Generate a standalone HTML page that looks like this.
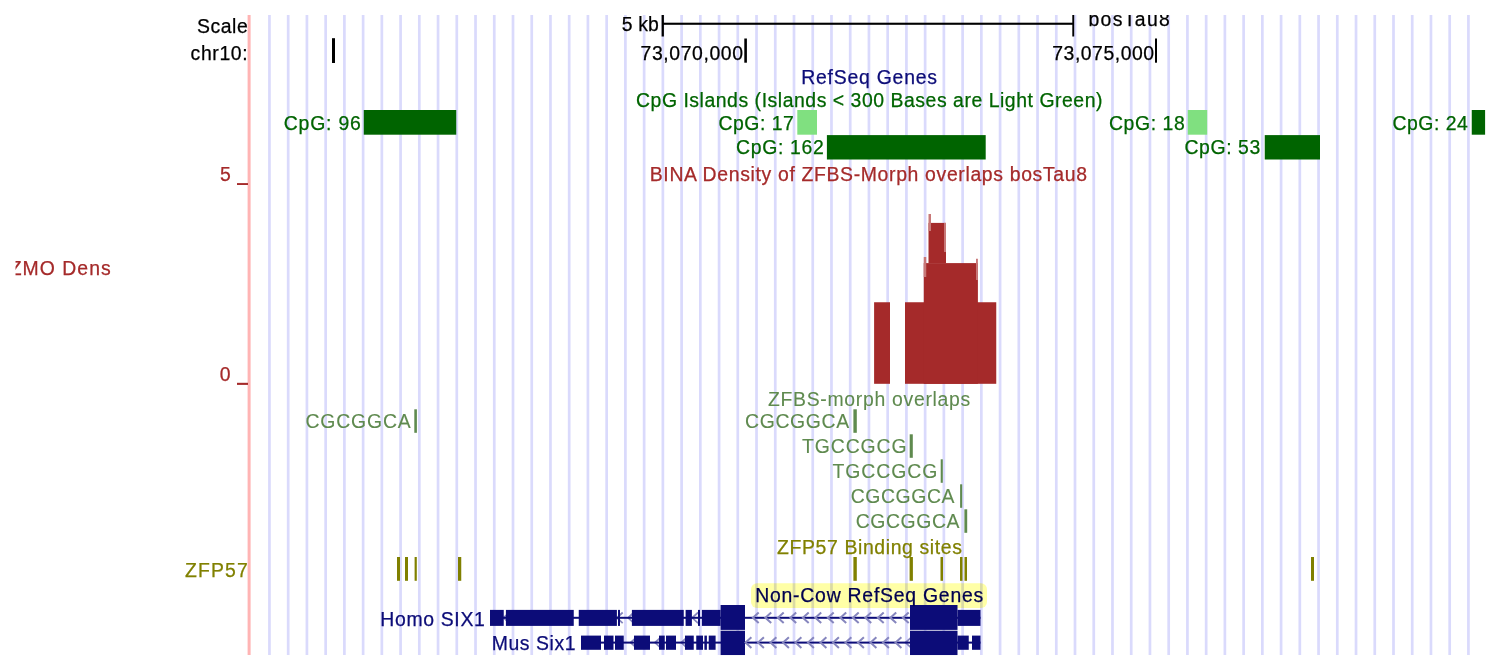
<!DOCTYPE html><html><head><meta charset="utf-8"><title>Genome Browser</title><style>html,body{margin:0;padding:0;background:#fff}svg{display:block}text{font-family:"Liberation Sans", sans-serif;font-size:19.4px;white-space:pre}</style></head><body>
<svg width="1504" height="672" viewBox="0 0 1504 672">
<rect width="1504" height="672" fill="#fff"/>
<g fill="#dadafc"><rect x="268.10" y="15" width="2.7" height="640"/><rect x="286.83" y="15" width="2.7" height="640"/><rect x="305.57" y="15" width="2.7" height="640"/><rect x="324.30" y="15" width="2.7" height="640"/><rect x="343.04" y="15" width="2.7" height="640"/><rect x="361.77" y="15" width="2.7" height="640"/><rect x="380.50" y="15" width="2.7" height="640"/><rect x="399.24" y="15" width="2.7" height="640"/><rect x="417.97" y="15" width="2.7" height="640"/><rect x="436.71" y="15" width="2.7" height="640"/><rect x="455.44" y="15" width="2.7" height="640"/><rect x="474.17" y="15" width="2.7" height="640"/><rect x="492.91" y="15" width="2.7" height="640"/><rect x="511.64" y="15" width="2.7" height="640"/><rect x="530.38" y="15" width="2.7" height="640"/><rect x="549.11" y="15" width="2.7" height="640"/><rect x="567.84" y="15" width="2.7" height="640"/><rect x="586.58" y="15" width="2.7" height="640"/><rect x="605.31" y="15" width="2.7" height="640"/><rect x="624.05" y="15" width="2.7" height="640"/><rect x="642.78" y="15" width="2.7" height="640"/><rect x="661.51" y="15" width="2.7" height="640"/><rect x="680.25" y="15" width="2.7" height="640"/><rect x="698.98" y="15" width="2.7" height="640"/><rect x="717.72" y="15" width="2.7" height="640"/><rect x="736.45" y="15" width="2.7" height="640"/><rect x="755.18" y="15" width="2.7" height="640"/><rect x="773.92" y="15" width="2.7" height="640"/><rect x="792.65" y="15" width="2.7" height="640"/><rect x="811.39" y="15" width="2.7" height="640"/><rect x="830.12" y="15" width="2.7" height="640"/><rect x="848.85" y="15" width="2.7" height="640"/><rect x="867.59" y="15" width="2.7" height="640"/><rect x="886.32" y="15" width="2.7" height="640"/><rect x="905.06" y="15" width="2.7" height="640"/><rect x="923.79" y="15" width="2.7" height="640"/><rect x="942.52" y="15" width="2.7" height="640"/><rect x="961.26" y="15" width="2.7" height="640"/><rect x="979.99" y="15" width="2.7" height="640"/><rect x="998.73" y="15" width="2.7" height="640"/><rect x="1017.46" y="15" width="2.7" height="640"/><rect x="1036.19" y="15" width="2.7" height="640"/><rect x="1054.93" y="15" width="2.7" height="640"/><rect x="1073.66" y="15" width="2.7" height="640"/><rect x="1092.40" y="15" width="2.7" height="640"/><rect x="1111.13" y="15" width="2.7" height="640"/><rect x="1129.86" y="15" width="2.7" height="640"/><rect x="1148.60" y="15" width="2.7" height="640"/><rect x="1167.33" y="15" width="2.7" height="640"/><rect x="1186.07" y="15" width="2.7" height="640"/><rect x="1204.80" y="15" width="2.7" height="640"/><rect x="1223.53" y="15" width="2.7" height="640"/><rect x="1242.27" y="15" width="2.7" height="640"/><rect x="1261.00" y="15" width="2.7" height="640"/><rect x="1279.74" y="15" width="2.7" height="640"/><rect x="1298.47" y="15" width="2.7" height="640"/><rect x="1317.20" y="15" width="2.7" height="640"/><rect x="1335.94" y="15" width="2.7" height="640"/><rect x="1354.67" y="15" width="2.7" height="640"/><rect x="1373.41" y="15" width="2.7" height="640"/><rect x="1392.14" y="15" width="2.7" height="640"/><rect x="1410.87" y="15" width="2.7" height="640"/><rect x="1429.61" y="15" width="2.7" height="640"/><rect x="1448.34" y="15" width="2.7" height="640"/><rect x="1467.08" y="15" width="2.7" height="640"/></g>
<rect x="247.6" y="15" width="3" height="640" fill="#ffb4b4"/>
<g fill="#000">
<rect x="662.20" y="22.70" width="411.30" height="2.10"/>
<rect x="661.60" y="15.00" width="2.30" height="21.50"/>
<rect x="1072.30" y="15.00" width="1.90" height="21.50"/>
<rect x="332.00" y="38.20" width="3.00" height="24.80"/>
<rect x="744.30" y="38.50" width="2.60" height="24.20"/>
<rect x="1155.00" y="38.50" width="2.00" height="24.20"/>
</g>
<g fill="#006400">
<rect x="363.75" y="110.00" width="92.50" height="24.70"/>
<rect x="826.90" y="135.10" width="158.80" height="24.40"/>
<rect x="1264.75" y="135.10" width="55.25" height="24.40"/>
<rect x="1471.75" y="110.00" width="18.25" height="24.70"/>
</g><g fill="#80e080">
<rect x="797.30" y="110.00" width="19.70" height="24.70"/>
<rect x="1187.75" y="110.00" width="19.45" height="24.70"/>
</g>
<g fill="#a52a2a">
<rect x="237.00" y="183.10" width="11.00" height="1.90"/>
<rect x="237.00" y="382.80" width="11.00" height="2.10"/>
<rect x="874.10" y="302.25" width="15.90" height="81.55"/>
<rect x="905.00" y="302.25" width="91.25" height="81.55"/>
<rect x="923.75" y="263.10" width="54.15" height="120.70"/>
<rect x="928.50" y="222.90" width="17.50" height="40.30"/>
</g><g fill="#c87878">
<rect x="923.75" y="257.00" width="2.50" height="20.00"/>
<rect x="976.00" y="258.75" width="1.90" height="21.25"/>
<rect x="928.50" y="214.00" width="2.50" height="17.00"/>
<rect x="944.00" y="222.90" width="2.00" height="29.10"/>
</g>
<g fill="#5f8a4f">
<rect x="414.30" y="409.30" width="2.60" height="23.50"/>
<rect x="853.40" y="409.30" width="3.40" height="23.50"/>
<rect x="909.70" y="434.30" width="3.10" height="23.50"/>
<rect x="940.70" y="459.30" width="2.10" height="23.50"/>
<rect x="960.10" y="484.30" width="2.10" height="23.50"/>
<rect x="964.40" y="509.30" width="2.80" height="23.50"/>
</g>
<g fill="#808000">
<rect x="397.00" y="557.00" width="3.00" height="23.80"/>
<rect x="405.00" y="557.00" width="3.00" height="23.80"/>
<rect x="414.60" y="557.00" width="2.20" height="23.80"/>
<rect x="458.00" y="557.00" width="3.25" height="23.80"/>
<rect x="853.40" y="557.00" width="3.40" height="23.80"/>
<rect x="909.60" y="557.00" width="3.30" height="23.80"/>
<rect x="940.50" y="557.00" width="2.50" height="23.80"/>
<rect x="960.00" y="557.00" width="2.50" height="23.80"/>
<rect x="964.50" y="557.00" width="2.50" height="23.80"/>
<rect x="1311.00" y="557.00" width="3.00" height="23.80"/>
</g>
<rect x="751" y="583.3" width="236" height="24.6" rx="6" ry="6" fill="#ffffa6" style="mix-blend-mode:multiply"/>
<path d="M509.40 612.50L503.60 617.80L509.40 623.10M622.70 612.50L616.90 617.80L622.70 623.10M633.90 612.50L628.10 617.80L633.90 623.10M698.05 612.50L692.25 617.80L698.05 623.10" fill="none" stroke="#8686be" stroke-width="1.8"/>
<g fill="#0c0c78">
<rect x="490.00" y="616.80" width="490.50" height="2.00"/>
<rect x="490.00" y="609.90" width="13.75" height="16.00"/>
<rect x="505.90" y="609.90" width="67.85" height="16.00"/>
<rect x="578.75" y="609.90" width="38.15" height="16.00"/>
<rect x="618.00" y="609.90" width="2.00" height="16.00"/>
<rect x="631.90" y="609.90" width="51.85" height="16.00"/>
<rect x="685.60" y="609.90" width="6.30" height="16.00"/>
<rect x="698.00" y="609.90" width="2.00" height="16.00"/>
<rect x="701.90" y="609.90" width="18.70" height="16.00"/>
<rect x="957.50" y="609.90" width="23.00" height="16.00"/>
<rect x="720.60" y="605.00" width="24.40" height="24.90"/>
<rect x="910.00" y="605.00" width="47.50" height="24.90"/>
</g>
<path d="M758.70 612.50L752.90 617.80L758.70 623.10M771.20 612.50L765.40 617.80L771.20 623.10M783.70 612.50L777.90 617.80L783.70 623.10M796.20 612.50L790.40 617.80L796.20 623.10M808.70 612.50L802.90 617.80L808.70 623.10M821.20 612.50L815.40 617.80L821.20 623.10M833.70 612.50L827.90 617.80L833.70 623.10M846.20 612.50L840.40 617.80L846.20 623.10M858.70 612.50L852.90 617.80L858.70 623.10M871.20 612.50L865.40 617.80L871.20 623.10M883.70 612.50L877.90 617.80L883.70 623.10M896.20 612.50L890.40 617.80L896.20 623.10M908.70 612.50L902.90 617.80L908.70 623.10" fill="none" stroke="#8686be" stroke-width="2.0"/>
<path d="M636.40 637.30L630.60 642.60L636.40 647.90M660.80 637.30L655.00 642.60L660.80 647.90M687.05 637.30L681.25 642.60L687.05 647.90M911.30 637.30L905.50 642.60L911.30 647.90" fill="none" stroke="#8686be" stroke-width="1.8"/>
<g fill="#0c0c78">
<rect x="581.00" y="641.60" width="399.50" height="2.00"/>
<rect x="581.00" y="635.60" width="20.00" height="14.20"/>
<rect x="604.00" y="635.60" width="9.50" height="14.20"/>
<rect x="615.00" y="635.60" width="8.75" height="14.20"/>
<rect x="634.00" y="635.60" width="16.00" height="14.20"/>
<rect x="659.00" y="635.60" width="5.75" height="14.20"/>
<rect x="666.00" y="635.60" width="10.00" height="14.20"/>
<rect x="685.00" y="635.60" width="8.75" height="14.20"/>
<rect x="696.25" y="635.60" width="6.75" height="14.20"/>
<rect x="704.40" y="635.60" width="2.50" height="14.20"/>
<rect x="708.75" y="635.60" width="6.85" height="14.20"/>
<rect x="957.50" y="635.60" width="11.25" height="14.20"/>
<rect x="972.00" y="635.60" width="8.50" height="14.20"/>
<rect x="720.60" y="630.70" width="24.40" height="24.50"/>
<rect x="910.00" y="630.70" width="47.50" height="24.50"/>
</g>
<path d="M751.40 637.30L745.60 642.60L751.40 647.90M763.90 637.30L758.10 642.60L763.90 647.90M776.40 637.30L770.60 642.60L776.40 647.90M788.90 637.30L783.10 642.60L788.90 647.90M801.40 637.30L795.60 642.60L801.40 647.90M813.90 637.30L808.10 642.60L813.90 647.90M826.40 637.30L820.60 642.60L826.40 647.90M838.90 637.30L833.10 642.60L838.90 647.90M851.40 637.30L845.60 642.60L851.40 647.90M863.90 637.30L858.10 642.60L863.90 647.90M876.40 637.30L870.60 642.60L876.40 647.90M888.90 637.30L883.10 642.60L888.90 647.90M901.40 637.30L895.60 642.60L901.40 647.90" fill="none" stroke="#8686be" stroke-width="2.0"/>
<text transform="translate(196.90 33.10) scale(1.0000 1)" fill="#000000" stroke="#000000" stroke-width="0.25" style="letter-spacing:0.595px">Scale</text>
<text transform="translate(190.60 59.85) scale(1.0000 1)" fill="#000000" stroke="#000000" stroke-width="0.25" style="letter-spacing:0.629px">chr10:</text>
<text transform="translate(621.75 31.35) scale(1.0000 1)" fill="#000000" stroke="#000000" stroke-width="0.25" style="letter-spacing:0.128px">5 kb</text>
<text transform="translate(640.50 60.10) scale(1.0000 1)" fill="#000000" stroke="#000000" stroke-width="0.25" style="letter-spacing:0.604px">73,070,000</text>
<text transform="translate(1052.25 60.10) scale(1.0000 1)" fill="#000000" stroke="#000000" stroke-width="0.25" style="letter-spacing:0.532px">73,075,000</text>
<text transform="translate(1088.50 26.10) scale(1.0000 1)" fill="#000000" stroke="#000000" stroke-width="0.25" style="letter-spacing:1.329px">bosTau8</text>
<text transform="translate(801.25 84.00) scale(1.0000 1)" fill="#0c0c78" stroke="#0c0c78" stroke-width="0.25" style="letter-spacing:0.773px">RefSeq Genes</text>
<text transform="translate(636.00 107.20) scale(1.0000 1)" fill="#006400" stroke="#006400" stroke-width="0.25" style="letter-spacing:0.545px">CpG Islands (Islands &lt; 300 Bases are Light Green)</text>
<text transform="translate(283.75 129.50) scale(1.0000 1)" fill="#006400" stroke="#006400" stroke-width="0.25" style="letter-spacing:0.804px">CpG: 96</text>
<text transform="translate(718.50 129.50) scale(1.0000 1)" fill="#006400" stroke="#006400" stroke-width="0.25" style="letter-spacing:0.512px">CpG: 17</text>
<text transform="translate(736.00 154.20) scale(1.0000 1)" fill="#006400" stroke="#006400" stroke-width="0.25" style="letter-spacing:0.684px">CpG: 162</text>
<text transform="translate(1109.00 129.50) scale(1.0000 1)" fill="#006400" stroke="#006400" stroke-width="0.25" style="letter-spacing:0.595px">CpG: 18</text>
<text transform="translate(1184.50 154.20) scale(1.0000 1)" fill="#006400" stroke="#006400" stroke-width="0.25" style="letter-spacing:0.595px">CpG: 53</text>
<text transform="translate(1392.50 129.50) scale(1.0000 1)" fill="#006400" stroke="#006400" stroke-width="0.25" style="letter-spacing:0.512px">CpG: 24</text>
<text transform="translate(649.75 180.60) scale(1.0000 1)" fill="#a52a2a" stroke="#a52a2a" stroke-width="0.25" style="letter-spacing:0.659px">BINA Density of ZFBS-Morph overlaps bosTau8</text>
<text transform="translate(220.00 180.85) scale(1.0000 1)" fill="#a52a2a" stroke="#a52a2a" stroke-width="0.25" style="letter-spacing:0.000px">5</text>
<text transform="translate(219.75 381.10) scale(1.0000 1)" fill="#a52a2a" stroke="#a52a2a" stroke-width="0.25" style="letter-spacing:0.000px">0</text>
<text transform="translate(9.70 274.80) scale(1.0000 1)" fill="#a52a2a" stroke="#a52a2a" stroke-width="0.25" style="letter-spacing:1.037px">ZMO Dens</text>
<text transform="translate(768.00 405.70) scale(1.0000 1)" fill="#5f8a4f" stroke="#5f8a4f" stroke-width="0.1" style="letter-spacing:0.697px">ZFBS-morph overlaps</text>
<text transform="translate(305.50 428.20) scale(1.0000 1)" fill="#5f8a4f" stroke="#5f8a4f" stroke-width="0.1" style="letter-spacing:0.832px">CGCGGCA</text>
<text transform="translate(745.00 428.10) scale(1.0000 1)" fill="#5f8a4f" stroke="#5f8a4f" stroke-width="0.1" style="letter-spacing:0.665px">CGCGGCA</text>
<text transform="translate(802.00 452.90) scale(1.0000 1)" fill="#5f8a4f" stroke="#5f8a4f" stroke-width="0.1" style="letter-spacing:0.913px">TGCCGCG</text>
<text transform="translate(832.50 478.40) scale(1.0000 1)" fill="#5f8a4f" stroke="#5f8a4f" stroke-width="0.1" style="letter-spacing:0.955px">TGCCGCG</text>
<text transform="translate(850.75 503.10) scale(1.0000 1)" fill="#5f8a4f" stroke="#5f8a4f" stroke-width="0.1" style="letter-spacing:0.582px">CGCGGCA</text>
<text transform="translate(855.75 527.90) scale(1.0000 1)" fill="#5f8a4f" stroke="#5f8a4f" stroke-width="0.1" style="letter-spacing:0.582px">CGCGGCA</text>
<text transform="translate(777.00 554.40) scale(1.0000 1)" fill="#808000" stroke="#808000" stroke-width="0.25" style="letter-spacing:0.635px">ZFP57 Binding sites</text>
<text transform="translate(185.00 577.00) scale(1.0000 1)" fill="#808000" stroke="#808000" stroke-width="0.25" style="letter-spacing:1.148px">ZFP57</text>
<text transform="translate(755.25 602.40) scale(1.0000 1)" fill="#000050" stroke="#000050" stroke-width="0.25" style="letter-spacing:0.765px">Non-Cow RefSeq Genes</text>
<text transform="translate(380.25 625.50) scale(1.0000 1)" fill="#0c0c78" stroke="#0c0c78" stroke-width="0.25" style="letter-spacing:0.673px">Homo SIX1</text>
<text transform="translate(491.80 650.20) scale(1.0000 1)" fill="#0c0c78" stroke="#0c0c78" stroke-width="0.25" style="letter-spacing:0.563px">Mus Six1</text>
<rect x="0" y="0" width="1504" height="15" fill="#fff"/><rect x="0" y="0" width="15.5" height="672" fill="#fff"/><rect x="1485.1" y="0" width="20" height="672" fill="#fff"/><rect x="0" y="655.2" width="1504" height="20" fill="#fff"/>
</svg></body></html>
